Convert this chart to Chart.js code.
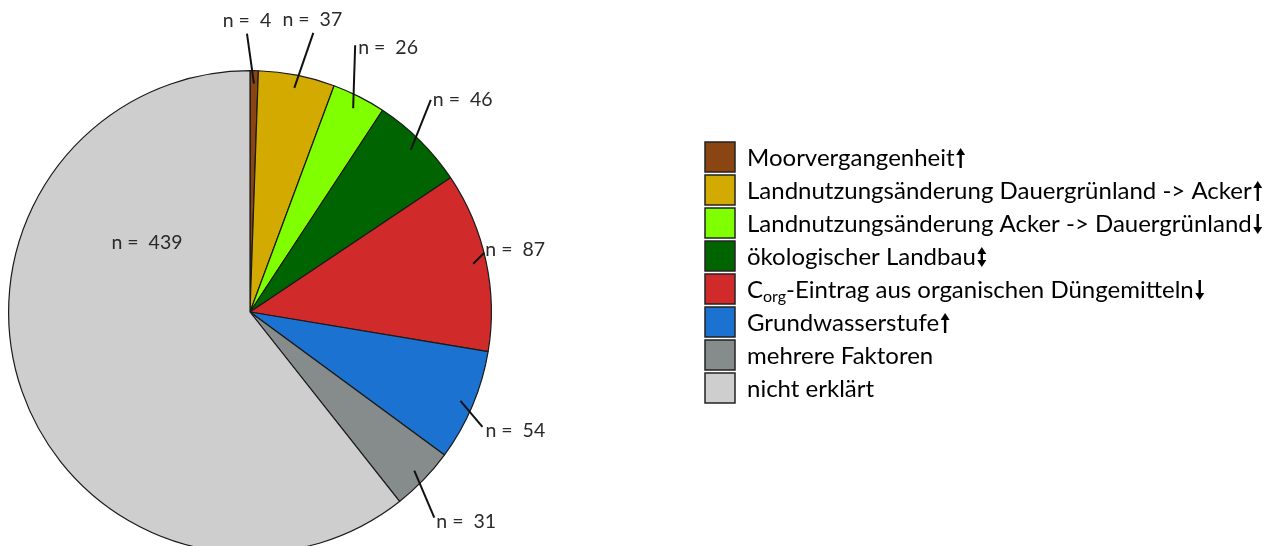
<!DOCTYPE html>
<html>
<head>
<meta charset="utf-8">
<script src="https://cdn.jsdelivr.net/npm/chart.js"></script>
<style>
  html, body { margin: 0; padding: 0; background: #fff; overflow: hidden; }
  #wrap { width: 1285px; height: 560px; }
</style>
</head>
<body>
<div id="wrap"><canvas id="pie" width="1285" height="560"></canvas></div>
<script>
// Anzahl der Standorte je Erklärungsfaktor
const categories = [
  'Moorvergangenheit',
  'Landnutzungsänderung Dauergrünland -> Acker',
  'Landnutzungsänderung Acker -> Dauergrünland',
  'ökologischer Landbau',
  'C_{org}-Eintrag aus organischen Düngemitteln',
  'Grundwasserstufe',
  'mehrere Faktoren',
  'nicht erklärt'
];
const counts = [4, 37, 26, 46, 87, 54, 31, 439];
const trend = ['up', 'up', 'down', 'both', 'down', 'up', '', ''];
const colors = ['#8b4513', '#d2aa00', '#80ff00', '#006400', '#d12a2a', '#1c72d0', '#868b8b', '#cecece'];

// leader lines: offset of line end from the inner point, then text offset from line end
const leaders = [
  { dx: -7, dy: -50, tx: 0, ty: -13, align: 'center' },
  { dx: 19, dy: -55, tx: -1, ty: -13, align: 'center' },
  { dx: 2, dy: -63, tx: 3, ty: 2, align: 'left' },
  { dx: 20, dy: -50, tx: 2, ty: 0, align: 'left' },
  { dx: 11, dy: -11, tx: 1, ty: -3, align: 'left' },
  { dx: 22, dy: 26, tx: 3, ty: 4, align: 'left' },
  { dx: 20, dy: 47, tx: 2, ty: 4, align: 'left' },
  null
];

const labelFont = '19.5px Lato, "Open Sans", sans-serif';
const legendFont = '24px Lato, "Open Sans", sans-serif';
const subFont = '16px Lato, "Open Sans", sans-serif';

function drawArrow(ctx, x, cy, dir) {
  const h = 10, head = 7, hw = 4.5;
  ctx.save();
  ctx.strokeStyle = '#000';
  ctx.fillStyle = '#000';
  ctx.lineWidth = 2.4;
  let top = cy - h, bot = cy + h;
  if (dir === 'up' || dir === 'both') top += head - 1;
  if (dir === 'down' || dir === 'both') bot -= head - 1;
  ctx.beginPath();
  ctx.moveTo(x, top);
  ctx.lineTo(x, bot);
  ctx.stroke();
  if (dir === 'up' || dir === 'both') {
    ctx.beginPath();
    ctx.moveTo(x, cy - h);
    ctx.lineTo(x - hw, cy - h + head);
    ctx.lineTo(x + hw, cy - h + head);
    ctx.closePath();
    ctx.fill();
  }
  if (dir === 'down' || dir === 'both') {
    ctx.beginPath();
    ctx.moveTo(x, cy + h);
    ctx.lineTo(x - hw, cy + h - head);
    ctx.lineTo(x + hw, cy + h - head);
    ctx.closePath();
    ctx.fill();
  }
  ctx.restore();
}

// text with optional subscript written as _{...}
function drawRichText(ctx, text, x, y) {
  const parts = text.split(/(_\{[^}]*\})/);
  let cx = x;
  parts.forEach(p => {
    if (!p) return;
    if (p.startsWith('_{')) {
      const s = p.slice(2, -1);
      ctx.save();
      ctx.font = subFont;
      ctx.fillText(s, cx, y + 7);
      cx += ctx.measureText(s).width;
      ctx.restore();
    } else {
      ctx.fillText(p, cx, y);
      cx += ctx.measureText(p).width;
    }
  });
  return cx;
}

const sliceLabels = {
  id: 'sliceLabels',
  afterDatasetsDraw(chart) {
    const ctx = chart.ctx;
    const arcs = chart.getDatasetMeta(0).data;
    ctx.save();
    ctx.font = labelFont;
    ctx.fillStyle = '#2a2a2a';
    ctx.textBaseline = 'middle';
    arcs.forEach((arc, i) => {
      const text = 'n =  ' + counts[i];
      const mid = (arc.startAngle + arc.endAngle) / 2;
      const L = leaders[i];
      if (!L) {
        ctx.textAlign = 'center';
        ctx.fillText(text, arc.x - 103, arc.y - 69);
        return;
      }
      const r = arc.outerRadius - 13;
      const x0 = arc.x + Math.cos(mid) * r;
      const y0 = arc.y + Math.sin(mid) * r;
      const x1 = x0 + L.dx, y1 = y0 + L.dy;
      ctx.beginPath();
      ctx.strokeStyle = '#111';
      ctx.lineWidth = 2;
      ctx.moveTo(x0, y0);
      ctx.lineTo(x1, y1);
      ctx.stroke();
      ctx.textAlign = L.align;
      ctx.fillText(text, x1 + L.tx, y1 + L.ty);
    });
    ctx.restore();
  }
};

const sideLegend = {
  id: 'sideLegend',
  afterDraw(chart) {
    const ctx = chart.ctx;
    const x = 705, y0 = 157, step = 33, box = 30;
    ctx.save();
    ctx.font = legendFont;
    ctx.textBaseline = 'middle';
    ctx.textAlign = 'left';
    chart.data.labels.forEach((lab, i) => {
      const cy = y0 + i * step;
      ctx.fillStyle = chart.data.datasets[0].backgroundColor[i];
      ctx.fillRect(x, cy - box / 2, box, box);
      ctx.strokeStyle = '#222';
      ctx.lineWidth = 1.5;
      ctx.strokeRect(x, cy - box / 2, box, box);
      ctx.fillStyle = '#000';
      const end = drawRichText(ctx, lab, x + 42, cy + 1);
      if (trend[i]) drawArrow(ctx, end + 6, cy + 1, trend[i]);
    });
    ctx.restore();
  }
};

new Chart(document.getElementById('pie'), {
  type: 'pie',
  data: {
    labels: categories,
    datasets: [{
      data: counts,
      backgroundColor: colors,
      borderColor: '#1a1a1a',
      borderWidth: 1.2
    }]
  },
  options: {
    responsive: false,
    animation: false,
    layout: { padding: { left: 8, top: 70, right: 793, bottom: 6 } },
    plugins: {
      legend: { display: false },
      tooltip: { enabled: false }
    }
  },
  plugins: [sliceLabels, sideLegend]
});
</script>
</body>
</html>
